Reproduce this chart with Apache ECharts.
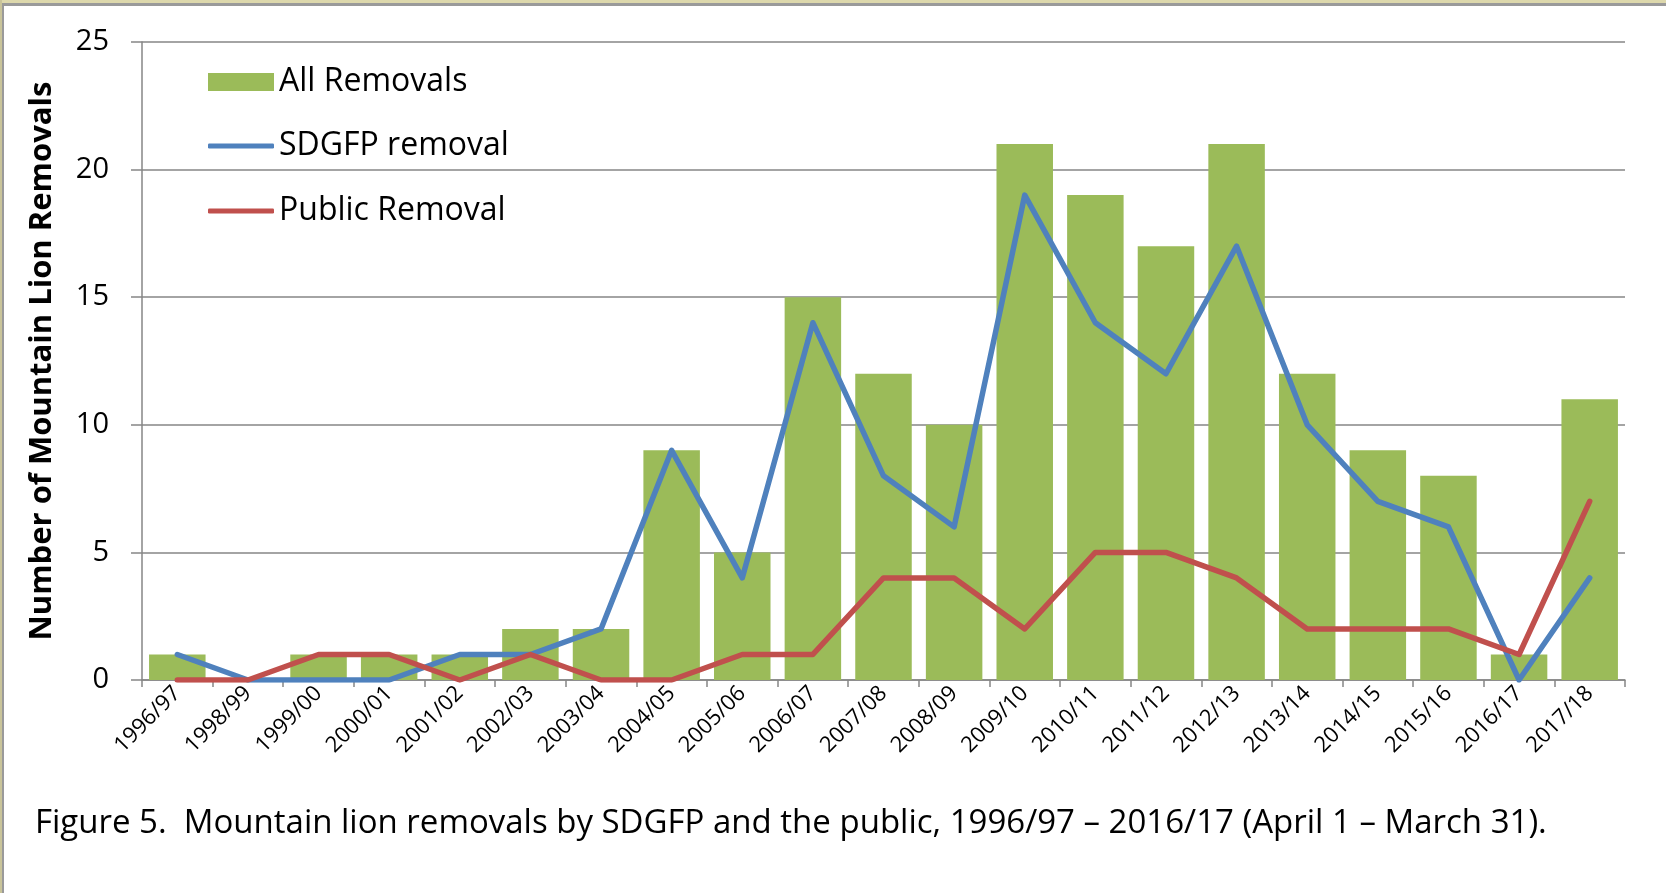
<!DOCTYPE html>
<html>
<head>
<meta charset="utf-8">
<script src="https://cdn.jsdelivr.net/npm/echarts@6/dist/echarts.min.js"></script>
<style>
  html, body { margin: 0; padding: 0; background: #fff; }
  #chart { width: 1666px; height: 893px; }
</style>
</head>
<body>
<div id="chart"></div>
<script>
// seasons (April 1 - March 31)
const seasons = ['1996/97', '1998/99', '1999/00', '2000/01', '2001/02', '2002/03', '2003/04',
  '2004/05', '2005/06', '2006/07', '2007/08', '2008/09', '2009/10', '2010/11', '2011/12',
  '2012/13', '2013/14', '2014/15', '2015/16', '2016/17', '2017/18'];
const allRemovals = [1, 0, 1, 1, 1, 2, 2, 9, 5, 15, 12, 10, 21, 19, 17, 21, 12, 9, 8, 1, 11];
const sdgfpRemoval = [1, 0, 0, 0, 1, 1, 2, 9, 4, 14, 8, 6, 19, 14, 12, 17, 10, 7, 6, 0, 4];
const publicRemoval = [0, 0, 1, 1, 0, 1, 0, 0, 1, 1, 4, 4, 2, 5, 5, 4, 2, 2, 2, 1, 7];
const yTicks = [0, 5, 10, 15, 20, 25];

const font = '"Open Sans", Lato, sans-serif';
const chart = echarts.init(document.getElementById('chart'));

// one legend per row so each row sits where the original has it
function legendRow(name, top, iconHeight, icon) {
  return {
    orient: 'vertical',
    left: 203,
    top: top,
    icon: icon,
    itemWidth: 66,
    itemHeight: iconHeight,
    textStyle: { fontSize: 32, lineHeight: 30, fontFamily: font, color: '#000', padding: [0, 0, 0, 0] },
    data: [name]
  };
}

const option = {
  backgroundColor: '#fff',
  animation: false,
  textStyle: { fontFamily: font, color: '#000' },
  grid: { left: 142, right: 41, top: 42, bottom: 213 },
  legend: [
    legendRow('All Removals', 61, 18, 'rect'),
    legendRow('SDGFP removal', 125, 5, 'roundRect'),
    legendRow('Public Removal', 190, 5, 'roundRect')
  ],
  xAxis: {
    type: 'category',
    data: seasons,
    axisLine: { lineStyle: { color: '#868686', width: 1.5 } },
    axisTick: { show: true, length: 7, lineStyle: { color: '#868686', width: 1.5 } },
    axisLabel: { rotate: 45, fontSize: 22, color: '#000', margin: 10, interval: 0 }
  },
  yAxis: {
    type: 'value',
    min: yTicks[0],
    max: yTicks[yTicks.length - 1],
    interval: 5,
    name: 'Number of Mountain Lion Removals',
    nameLocation: 'middle',
    nameGap: 84,
    nameTextStyle: { fontSize: 31, fontWeight: 'bold', color: '#000', fontFamily: font },
    axisLine: { show: true, lineStyle: { color: '#868686', width: 1.5 } },
    axisTick: { show: true, length: 11, lineStyle: { color: '#868686', width: 1.5 } },
    axisLabel: { fontSize: 29, color: '#000', margin: 33 },
    splitLine: { lineStyle: { color: '#868686', width: 1.5 } }
  },
  series: [
    {
      name: 'All Removals',
      type: 'bar',
      data: allRemovals,
      barCategoryGap: '20%',
      itemStyle: { color: '#9BBB59' }
    },
    {
      name: 'SDGFP removal',
      type: 'line',
      data: sdgfpRemoval,
      symbol: 'none',
      lineStyle: { color: '#4F81BD', width: 5.5, cap: 'round', join: 'round' },
      itemStyle: { color: '#4F81BD' }
    },
    {
      name: 'Public Removal',
      type: 'line',
      data: publicRemoval,
      symbol: 'none',
      lineStyle: { color: '#C0504D', width: 5.5, cap: 'round', join: 'round' },
      itemStyle: { color: '#C0504D' }
    }
  ],
  graphic: [
    // frame of the cropped figure
    { type: 'rect', shape: { x: 0, y: 0, width: 1666, height: 3 }, style: { fill: '#DDD8AC' } },
    { type: 'rect', shape: { x: 0, y: 3, width: 1666, height: 3 }, style: { fill: '#9A9A9A' } },
    { type: 'rect', shape: { x: 0, y: 0, width: 2, height: 893 }, style: { fill: '#C9C49A' } },
    { type: 'rect', shape: { x: 2, y: 3, width: 2, height: 890 }, style: { fill: '#9A9A9A' } },
    {
      type: 'text',
      left: 35,
      top: 807,
      style: {
        text: 'Figure 5.  Mountain lion removals by SDGFP and the public, 1996/97 \u2013 2016/17 (April 1 \u2013 March 31).',
        font: '33px ' + font,
        fill: '#000'
      }
    }
  ]
};

chart.setOption(option);
</script>
</body>
</html>
